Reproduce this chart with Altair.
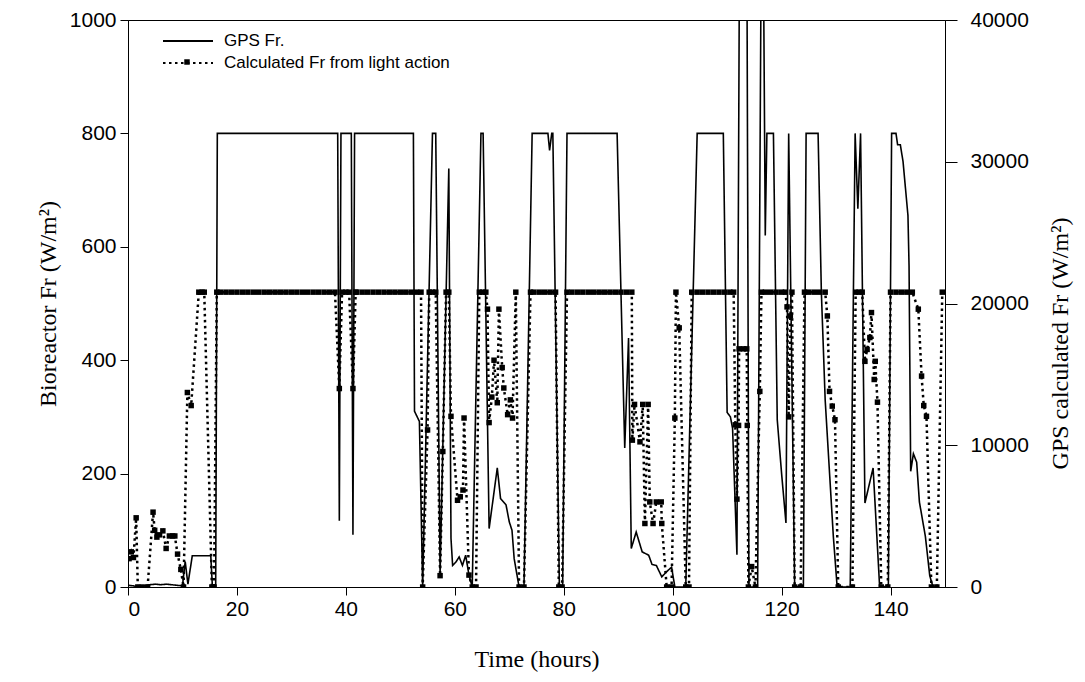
import altair as alt
import pandas as pd

# ---------------- data ----------------
# GPS Fr. (solid line, right axis, W/m2)
gps_hours = [0, 1, 2, 3, 4, 5, 6, 7, 8, 9, 10, 10.5, 11.0, 11.8, 15.2, 15.5, 16.1, 16.4,
             38.5, 38.8, 39.1, 41.0, 41.3, 41.6, 52.4, 52.6, 53.5, 54.1, 55.9, 56.5, 57.3,
             58.9, 59.3, 59.6, 60.2, 60.8, 61.4, 62.0, 62.6, 63.2, 64.8, 65.2, 66.3, 67.8,
             68.4, 69.4, 70.0, 70.5, 70.9, 71.8, 72.7, 74.2, 77.1, 77.4, 77.8, 78.0, 79.2,
             79.8, 80.6, 89.8, 91.2, 91.9, 92.4, 93.3, 94.4, 95.6, 96.2, 97.0, 98.0, 98.9,
             99.8, 100.4, 102.4, 104.5, 109.3, 110.0, 110.6, 111.0, 111.8, 112.3, 113.6,
             114.0, 115.6, 116.3, 116.6, 117.0, 117.3, 118.5, 119.2, 120.0, 120.8, 121.3,
             122.4, 124.0, 124.5, 126.7, 127.3, 128.0, 129.5, 130.2, 132.6, 133.5, 134.0,
             134.5, 135.3, 136.8, 138.0, 139.6, 140.2, 141.0, 141.3, 141.8, 142.3, 143.2,
             143.4, 143.7, 144.2, 144.8, 145.3, 146.4, 147.2, 147.8, 148.5]
gps_fr = [120, 80, 0, 80, 160, 200, 160, 200, 160, 120, 80, 1800, 200, 2200, 2200, 0, 0, 32000,
          32000, 4680, 32000, 32000, 3680, 32000, 32000, 12400, 11680, 0, 32000, 32000, 960,
          29520, 3440, 1520, 1760, 2120, 1520, 2240, 840, 0, 32000, 32000, 4120, 8400,
          6240, 5800, 4600, 4000, 2000, 0, 0, 32000, 32000, 30800, 32000, 32000, 0,
          0, 32000, 32000, 9800, 17560, 2720, 3880, 2480, 2240, 1600, 1520, 720, 1080,
          1400, 0, 0, 32000, 32000, 12320, 12000, 11200, 2280, 48000, 48000,
          0, 0, 48000, 48000, 24800, 32000, 32000, 11800, 8000, 4520, 32000,
          0, 0, 32000, 32000, 20800, 13200, 3560, 0, 0, 32000, 26680,
          32000, 5920, 8400, 0, 0, 32000, 32000, 31200, 31200, 30000, 26200,
          22640, 8160, 9400, 8800, 6000, 3560, 800, 0, 0]

# Calculated Fr from light action (dotted line with markers, left axis, W/m2)
calc_hours = [0.2, 0.6, 1.0, 1.5, 1.8, 2.6, 3.6, 4.6, 4.9, 5.3, 5.8, 6.4, 7.0, 7.6, 8.2, 8.6,
              9.1, 9.7, 10.2, 10.9, 11.6, 13.0, 13.6, 14.0, 15.4, 15.8, 16.3,
              17, 18, 19, 20, 21, 22, 23, 24, 25, 26, 27, 28, 29, 30, 31, 32, 33, 34, 35,
              36, 37, 38, 38.8, 39.3, 40, 40.6, 41.3, 41.8, 42, 43, 44, 45, 46, 47, 48,
              49, 50, 51, 52, 53, 53.8, 54.1, 55.0, 55.3, 55.9, 56.5, 57.3, 57.8, 58.4,
              58.9, 59.3, 60.5, 61.0, 61.5, 61.7, 62.6, 63.2, 63.9, 64.5, 65.1, 65.7,
              66.0, 66.3, 66.8, 67.2, 67.8, 68.1, 68.7, 69.0, 69.7, 70.2, 70.6, 71.2,
              71.8, 72.7, 73.9, 74.5, 75.5, 76.5, 77.5, 78.5, 79.1, 79.7, 80.6, 81.5,
              82.5, 83.5, 84.5, 85.5, 86.5, 87.5, 88.5, 89.5, 90.5, 91.5, 92.5, 92.6,
              93.0, 94.0, 94.5, 94.9, 95.5, 95.8, 96.4, 97.0, 97.9, 98.0, 98.9, 99.8,
              100.4, 100.6, 101.2, 102.4, 103.0, 103.5, 104.5, 105.5, 106.5, 107.5,
              108.5, 109.5, 110.5, 111.2, 111.5, 111.8, 112.1, 112.2, 113.0, 113.6,
              113.7, 113.9, 114.5, 115.2, 116.0, 116.3, 117, 118, 119, 120, 120.7,
              121.0, 121.3, 121.6, 121.9, 122.4, 123.5, 124.2, 125, 126, 127, 128,
              128.4, 128.8, 129.3, 129.8, 130.4, 133.0, 133.6, 134.2, 134.8, 135.3,
              135.7, 136.2, 136.5, 137.0, 137.2, 137.6, 138.3, 139.5, 140.0, 141, 142,
              143, 144, 145.1, 145.7, 146.1, 146.6, 147.5, 148.5, 149.5]
calc_fr = [50, 62, 52, 122, 0, 0, 0, 132, 100, 88, 92, 99, 68, 90, 90, 90,
           58, 31, 0, 343, 320, 520, 520, 520, 0, 0, 520,
           520, 520, 520, 520, 520, 520, 520, 520, 520, 520, 520, 520, 520, 520, 520, 520, 520, 520, 520,
           520, 520, 520, 350, 520, 520, 520, 350, 520, 520, 520, 520, 520, 520, 520, 520,
           520, 520, 520, 520, 520, 520, 0, 277, 520, 520, 520, 20, 239, 520,
           520, 301, 153, 159, 171, 298, 21, 0, 0, 520, 520, 520,
           490, 290, 335, 400, 325, 490, 387, 351, 304, 330, 298, 520,
           0, 0, 520, 520, 520, 520, 520, 520, 0, 0, 520, 520,
           520, 520, 520, 520, 520, 520, 520, 520, 520, 520, 520, 259,
           322, 256, 322, 112, 322, 150, 112, 150, 150, 112, 0, 0,
           298, 520, 457, 0, 0, 520, 520, 520, 520, 520,
           520, 520, 520, 520, 286, 155, 285, 420, 420, 420,
           285, 0, 36, 0, 345, 520, 520, 520, 520, 520, 520,
           494, 300, 478, 520, 0, 0, 520, 520, 520, 520, 520,
           478, 345, 319, 295, 0, 0, 520, 520, 520, 398,
           419, 440, 484, 366, 398, 326, 0, 0, 520, 520, 520,
           520, 520, 490, 372, 320, 301, 0, 0, 520]

series_names = ["GPS Fr.", "Calculated Fr from light action"]
x_ticks = [0, 20, 40, 60, 80, 100, 120, 140]
left_ticks = [0, 200, 400, 600, 800, 1000]
right_ticks = [0, 10000, 20000, 30000, 40000]

gps = pd.DataFrame({"t": gps_hours, "v": gps_fr, "series": series_names[0],
                    "k": list(range(len(gps_hours)))})
calc = pd.DataFrame({"t": calc_hours, "v": calc_fr, "series": series_names[1],
                     "k": list(range(len(calc_hours)))})

SANS = "Liberation Sans"
SERIF = "Liberation Serif"
TITLE_SIZE = 24

x_enc = alt.X("t:Q", scale=alt.Scale(domain=[0, 150], nice=False, zero=False),
              axis=alt.Axis(values=x_ticks, format="d", title="Time (hours)",
                            tickSize=8, labelPadding=3, titlePadding=28,
                            labelFont=SANS, labelFontSize=21, titleFont=SERIF,
                            titleFontSize=TITLE_SIZE, titleFontWeight="normal"))


def line_legend(y):
    return alt.Legend(orient="none", legendX=34, legendY=y, title=None,
                      symbolType="stroke", symbolSize=2500,
                      symbolStrokeWidth=2, symbolStrokeColor="black",
                      labelFont=SANS, labelFontSize=17, labelColor="black",
                      labelOffset=10, labelLimit=0, padding=0)


left_axis = alt.Axis(values=left_ticks, format="d", title="Bioreactor Fr (W/m²)",
                     tickSize=8, labelPadding=4, titlePadding=9,
                     labelFont=SANS, labelFontSize=21, titleFont=SERIF,
                     titleFontSize=TITLE_SIZE, titleFontWeight="normal")
y_left = alt.Y("v:Q", scale=alt.Scale(domain=[0, 1000], nice=False), axis=left_axis)

calc_line = alt.Chart(calc).mark_line(color="black", strokeWidth=2.5, clip=True).encode(
    x=x_enc, y=y_left,
    strokeDash=alt.StrokeDash("series:N",
                              scale=alt.Scale(domain=[series_names[1]], range=[[2.5, 3.5]]),
                              legend=line_legend(17)),
    order="k:Q")
calc_pts = alt.Chart(calc).mark_point(filled=True, color="black",
                                      size=30, opacity=1, clip=True).encode(
    x=x_enc, y=y_left,
    shape=alt.Shape("series:N",
                    scale=alt.Scale(domain=[series_names[1]], range=["square"]),
                    legend=alt.Legend(orient="none", legendX=56, legendY=39, title=None,
                                      symbolSize=30, symbolFillColor="black",
                                      symbolStrokeColor="black", symbolStrokeWidth=0,
                                      labelFontSize=1, labelOpacity=0, labelLimit=1,
                                      padding=0)))

right_axis = alt.Axis(values=right_ticks, format="d", orient="right",
                      title="GPS calculated Fr (W/m²)", titleAngle=270, titleY=323,
                      tickSize=12, labelPadding=13, titlePadding=44,
                      labelFont=SANS, labelFontSize=21, titleFont=SERIF,
                      titleFontSize=TITLE_SIZE, titleFontWeight="normal")
gps_line = alt.Chart(gps).mark_line(color="black", strokeWidth=1.6, clip=True).encode(
    x=x_enc,
    y=alt.Y("v:Q", scale=alt.Scale(domain=[0, 40000], nice=False), axis=right_axis),
    strokeDash=alt.StrokeDash("series:N",
                              scale=alt.Scale(domain=[series_names[0]], range=[[1, 0]]),
                              legend=line_legend(-5)),
    order="k:Q")

left_layer = alt.layer(calc_line, calc_pts)
chart = alt.layer(left_layer, gps_line).resolve_scale(
    y="independent", strokeDash="independent"
).properties(
    width=817, height=567, autosize="none",
    padding={"left": 120, "top": 12, "right": 130, "bottom": 87},
    background="white"
).configure_axis(
    grid=False, domainColor="black", tickColor="black", labelColor="black",
    titleColor="black", domainWidth=1, tickWidth=1
).configure_view(stroke="black", strokeWidth=1)

chart.save("out.html", embed_options={"renderer": "svg", "actions": False})
